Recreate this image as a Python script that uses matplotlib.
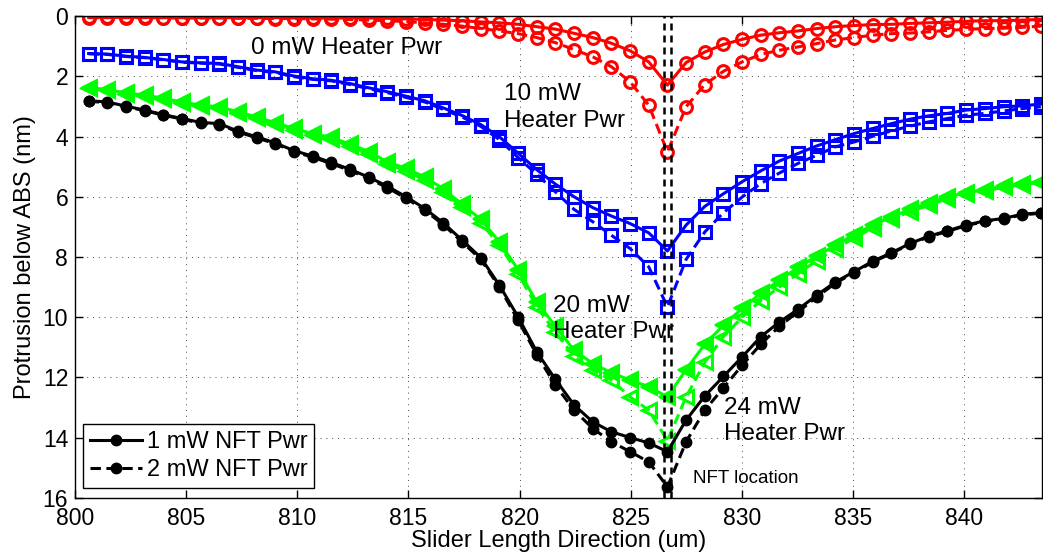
import matplotlib
matplotlib.use("Agg")
import matplotlib.pyplot as plt
from matplotlib.lines import Line2D

plt.rcParams['font.family'] = ['Liberation Sans', 'DejaVu Sans']

# sample positions along the slider (um)
x = [800.61, 801.45, 802.29, 803.13, 803.97, 804.81, 805.65, 806.49, 807.33, 808.17,
     809.01, 809.85, 810.69, 811.53, 812.37, 813.21, 814.05, 814.89, 815.73, 816.57,
     817.41, 818.25, 819.09, 819.93, 820.77, 821.61, 822.45, 823.29, 824.13, 824.97,
     825.81, 826.65, 827.49, 828.33, 829.17, 830.01, 830.85, 831.69, 832.53, 833.37,
     834.21, 835.05, 835.89, 836.73, 837.57, 838.41, 839.25, 840.09, 840.93, 841.77,
     842.61, 843.45]

# 0 mW heater
red_1mw = [0.04, 0.04, 0.04, 0.04, 0.05, 0.05, 0.05, 0.05, 0.05, 0.05,
           0.05, 0.06, 0.06, 0.06, 0.06, 0.06, 0.07, 0.09, 0.11, 0.13,
           0.15, 0.19, 0.22, 0.27, 0.35, 0.43, 0.57, 0.71, 0.90, 1.15,
           1.52, 2.29, 1.54, 1.19, 0.94, 0.77, 0.63, 0.55, 0.49, 0.41,
           0.35, 0.31, 0.28, 0.27, 0.24, 0.22, 0.20, 0.17, 0.15, 0.15,
           0.13, 0.11]
red_2mw = [0.05, 0.05, 0.05, 0.05, 0.05, 0.06, 0.06, 0.06, 0.07, 0.07,
           0.08, 0.08, 0.09, 0.10, 0.11, 0.13, 0.15, 0.18, 0.22, 0.27,
           0.33, 0.41, 0.49, 0.58, 0.71, 0.88, 1.11, 1.35, 1.68, 2.18,
           2.96, 4.51, 3.01, 2.27, 1.83, 1.52, 1.27, 1.13, 1.02, 0.91,
           0.79, 0.71, 0.63, 0.58, 0.56, 0.52, 0.47, 0.44, 0.41, 0.40,
           0.37, 0.33]

# 10 mW heater
blue_1mw = [1.24, 1.26, 1.33, 1.37, 1.44, 1.52, 1.55, 1.57, 1.68, 1.79,
            1.85, 1.99, 2.08, 2.13, 2.24, 2.38, 2.51, 2.66, 2.81, 3.05,
            3.30, 3.60, 4.01, 4.55, 5.10, 5.58, 6.00, 6.36, 6.64, 6.89,
            7.20, 7.80, 6.94, 6.32, 5.90, 5.50, 5.14, 4.81, 4.56, 4.31,
            4.10, 3.90, 3.73, 3.57, 3.42, 3.31, 3.23, 3.12, 3.07, 3.01,
            2.98, 2.92]
blue_2mw = [1.25, 1.27, 1.34, 1.38, 1.45, 1.53, 1.56, 1.59, 1.70, 1.81,
            1.87, 2.01, 2.10, 2.15, 2.27, 2.41, 2.54, 2.70, 2.85, 3.10,
            3.35, 3.66, 4.10, 4.70, 5.25, 5.84, 6.42, 6.83, 7.28, 7.72,
            8.33, 9.66, 8.08, 7.17, 6.53, 6.01, 5.56, 5.21, 4.89, 4.62,
            4.34, 4.18, 3.99, 3.81, 3.65, 3.51, 3.40, 3.29, 3.23, 3.15,
            3.07, 3.01]

# 20 mW heater
green_1mw = [2.37, 2.44, 2.55, 2.62, 2.73, 2.85, 2.96, 3.01, 3.18, 3.35,
             3.54, 3.73, 3.90, 4.03, 4.25, 4.50, 4.84, 5.06, 5.34, 5.74,
             6.25, 6.75, 7.50, 8.42, 9.50, 10.30, 11.10, 11.54, 11.85, 12.09,
             12.31, 12.65, 11.74, 10.90, 10.27, 9.71, 9.21, 8.77, 8.35, 7.97,
             7.61, 7.28, 6.94, 6.67, 6.42, 6.22, 6.00, 5.87, 5.76, 5.65,
             5.56, 5.50]
green_2mw = [2.39, 2.46, 2.57, 2.64, 2.76, 2.88, 2.99, 3.05, 3.22, 3.39,
             3.59, 3.78, 3.95, 4.09, 4.31, 4.57, 4.91, 5.14, 5.43, 5.83,
             6.35, 6.86, 7.60, 8.55, 9.65, 10.50, 11.30, 11.76, 12.09, 12.65,
             13.09, 14.10, 12.65, 11.50, 10.65, 10.00, 9.45, 9.00, 8.55, 8.12,
             7.72, 7.38, 7.03, 6.75, 6.49, 6.28, 6.06, 5.92, 5.80, 5.69,
             5.60, 5.53]

# 24 mW heater
black_1mw = [2.81, 2.85, 2.99, 3.12, 3.27, 3.40, 3.53, 3.57, 3.82, 4.01,
             4.21, 4.47, 4.65, 4.86, 5.09, 5.35, 5.65, 6.00, 6.39, 6.87,
             7.44, 8.02, 8.94, 9.99, 11.15, 12.07, 12.92, 13.48, 13.81, 14.00,
             14.18, 14.47, 13.42, 12.62, 11.97, 11.32, 10.65, 10.16, 9.74, 9.27,
             8.83, 8.49, 8.14, 7.86, 7.55, 7.31, 7.13, 6.94, 6.80, 6.72,
             6.58, 6.53]
black_2mw = [2.83, 2.87, 3.01, 3.14, 3.29, 3.42, 3.56, 3.60, 3.85, 4.04,
             4.24, 4.50, 4.69, 4.90, 5.13, 5.39, 5.70, 6.05, 6.45, 6.93,
             7.50, 8.08, 9.00, 10.10, 11.25, 12.26, 13.09, 13.70, 14.14, 14.47,
             14.81, 15.64, 14.14, 13.09, 12.35, 11.60, 10.90, 10.30, 9.82, 9.33,
             8.87, 8.52, 8.17, 7.88, 7.57, 7.33, 7.15, 6.96, 6.82, 6.74,
             6.60, 6.55]

nft_edges = [826.5, 826.8]

fig = plt.figure(figsize=(10.43, 5.58), dpi=100)
ax = fig.add_axes([0.072, 0.108, 0.927, 0.863])

dash = (3.4, 1.8)
lw = 2.2

# red, circles (open)
ax.plot(x, red_1mw, '-', color='r', lw=lw, marker='o', ms=8.5, mfc='none', mew=2.2)
ax.plot(x, red_2mw, '--', color='r', lw=lw, dashes=dash, marker='o', ms=8.5, mfc='none', mew=2.2)
# blue, squares (open)
ax.plot(x, blue_1mw, '-', color='b', lw=lw, marker='s', ms=8, mfc='none', mew=2.2)
ax.plot(x, blue_2mw, '--', color='b', lw=lw, dashes=dash, marker='s', ms=8, mfc='none', mew=2.2)
# green, triangles
ax.plot(x, green_1mw, '-', color='#00ff00', lw=lw, marker='<', ms=11.5, mfc='#00ff00', mew=1.5)
ax.plot(x, green_2mw, '--', color='#00ff00', lw=lw, dashes=dash, marker='<', ms=10.5, mfc='none', mew=2.2)
# black, filled dots
ax.plot(x, black_1mw, '-', color='k', lw=lw, marker='o', ms=7.5, mfc='k')
ax.plot(x, black_2mw, '--', color='k', lw=lw, dashes=dash, marker='o', ms=7.5, mfc='k')

for xe in nft_edges:
    ax.axvline(xe, color='k', lw=1.8, linestyle='--', dashes=(2.8, 2.0))

ax.set_xlim(800, 843.5)
ax.set_ylim(16, 0)
ax.set_xticks(range(800, 841, 5))
ax.set_yticks(range(0, 17, 2))
ax.tick_params(direction='in', top=True, right=True, length=6, width=1, labelsize=16.5)
ax.tick_params(axis='x', pad=7)
ax.tick_params(axis='y', pad=5)
ax.grid(True, color='k', linestyle=(0, (1, 5)), linewidth=0.7, alpha=0.7)
for s in ax.spines.values():
    s.set_linewidth(1.0)

ax.set_xlabel('Slider Length Direction (um)', fontsize=17, labelpad=0)
ax.set_ylabel('Protrusion below ABS (nm)', fontsize=17, labelpad=5)

ax.text(807.9, 1.05, '0 mW Heater Pwr', fontsize=17.5, ha='left', va='center')
ax.text(819.3, 3.03, '10 mW\nHeater Pwr', fontsize=17.5, ha='left', va='center', linespacing=1.25)
ax.text(821.5, 10.07, '20 mW\nHeater Pwr', fontsize=17.5, ha='left', va='center', linespacing=1.25)
ax.text(829.2, 13.45, '24 mW\nHeater Pwr', fontsize=17.5, ha='left', va='center', linespacing=1.25)
ax.text(827.8, 15.35, 'NFT location', fontsize=13.5, ha='left', va='center')

handles = [
    Line2D([], [], color='k', lw=lw, marker='o', ms=7.5, mfc='k'),
    Line2D([], [], color='k', lw=lw, linestyle='--', dashes=dash, marker='o', ms=7.5, mfc='k'),
]
leg = ax.legend(handles, ['1 mW NFT Pwr', '2 mW NFT Pwr'], loc='lower left',
                bbox_to_anchor=(0.008, 0.02), borderaxespad=0, fontsize=17,
                fancybox=False, framealpha=1, edgecolor='k', handlelength=2.2,
                handletextpad=0.2, labelspacing=0.25, borderpad=0.3)
leg.get_frame().set_linewidth(1.0)

fig.savefig('out.png', dpi=100)
